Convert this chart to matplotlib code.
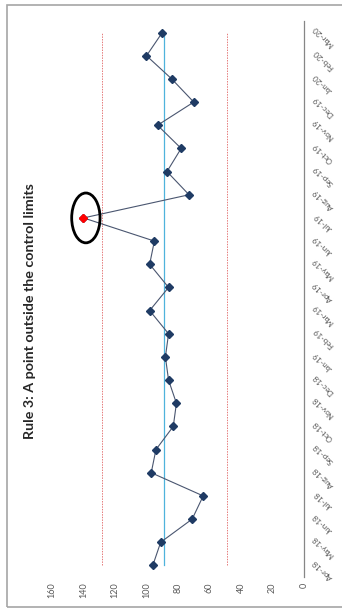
import matplotlib
matplotlib.use('Agg')
import matplotlib.pyplot as plt
import matplotlib.transforms as mtransforms
from matplotlib.patches import Ellipse, Rectangle

# monthly values, oldest first
months = ['Apr-18', 'May-18', 'Jun-18', 'Jul-18', 'Aug-18', 'Sep-18', 'Oct-18', 'Nov-18',
          'Dec-18', 'Jan-19', 'Feb-19', 'Mar-19', 'Apr-19', 'May-19', 'Jun-19', 'Jul-19',
          'Aug-19', 'Sep-19', 'Oct-19', 'Nov-19', 'Dec-19', 'Jan-20', 'Feb-20', 'Mar-20']
values = [96, 91, 71, 64, 97, 94, 83, 81, 86, 88, 86, 98,
          86, 98, 95, 140, 73, 87, 78, 93, 70, 84, 100, 90]
centre = 88.7
ucl = 128
lcl = 49
value_ticks = [0, 20, 40, 60, 80, 100, 120, 140, 160]

W, H = 342, 613
DPI = 100

plt.rcParams['font.family'] = ['Lato', 'DejaVu Sans']

fig = plt.figure(figsize=(W / DPI, H / DPI), dpi=DPI)

# chart frame
fig.patches.append(Rectangle((7 / W, 1 - 607 / H), 2, (607 - 5) / H, transform=fig.transFigure,
                             fill=False, edgecolor='#a6a6a6', linewidth=1.2))

# chart is laid out sideways: values run right-to-left, months bottom-to-top
ax = fig.add_axes([52 / W, 1 - 577 / H, (304 - 52) / W, (577 - 21) / H])
pos = list(range(len(months)))

ax.plot([ucl] * len(pos), pos, color='#e57a7a', lw=0.7, ls=(0, (1.5, 1.2)))
ax.plot([lcl] * len(pos), pos, color='#e57a7a', lw=0.7, ls=(0, (1.5, 1.2)))
ax.plot([centre] * len(pos), pos, color='#4fb3dc', lw=0.9)

ax.plot(values, pos, color='#4a5670', lw=0.8, marker='D', ms=4,
        mfc='#1f3b64', mec='#1f3b64', zorder=3)

# highlight the point beyond the limits
out = [i for i, v in enumerate(values) if v > ucl or v < lcl]
for i in out:
    ax.plot(values[i], i, marker='D', ms=3.6, color='#ff0000', zorder=4)
    ax.add_patch(Ellipse((values[i] - 1.5, i), 18, 2.15, fill=False,
                         edgecolor='black', lw=2, zorder=5))

ax.set_xlim(160, 0)
ax.set_ylim(-0.5, len(months) - 0.5)
ax.set_xticks(value_ticks)
ax.set_xticklabels([str(t) for t in value_ticks], rotation=90, fontsize=6.5, color='#595959')
ax.tick_params(axis='x', length=0, pad=4)
ax.set_yticks([])

for s in ['top', 'left', 'bottom']:
    ax.spines[s].set_visible(False)
ax.spines['right'].set_color('#868686')
ax.spines['right'].set_linewidth(0.9)

# month labels along the category axis
offset = mtransforms.ScaledTranslation(19 / DPI, -4 / DPI, fig.dpi_scale_trans)
for i, m in enumerate(months):
    ax.text(1.0, i, m, transform=ax.get_yaxis_transform() + offset,
            rotation=135, rotation_mode='anchor', ha='center', va='center',
            fontsize=5.8, color='#595959', clip_on=False)

fig.text(30 / W, 1 - 311 / H, 'Rule 3: A point outside the control limits',
         rotation=90, ha='center', va='center', fontsize=10.3, fontweight='bold',
         color='#262626')

fig.savefig('out.png', dpi=DPI)
